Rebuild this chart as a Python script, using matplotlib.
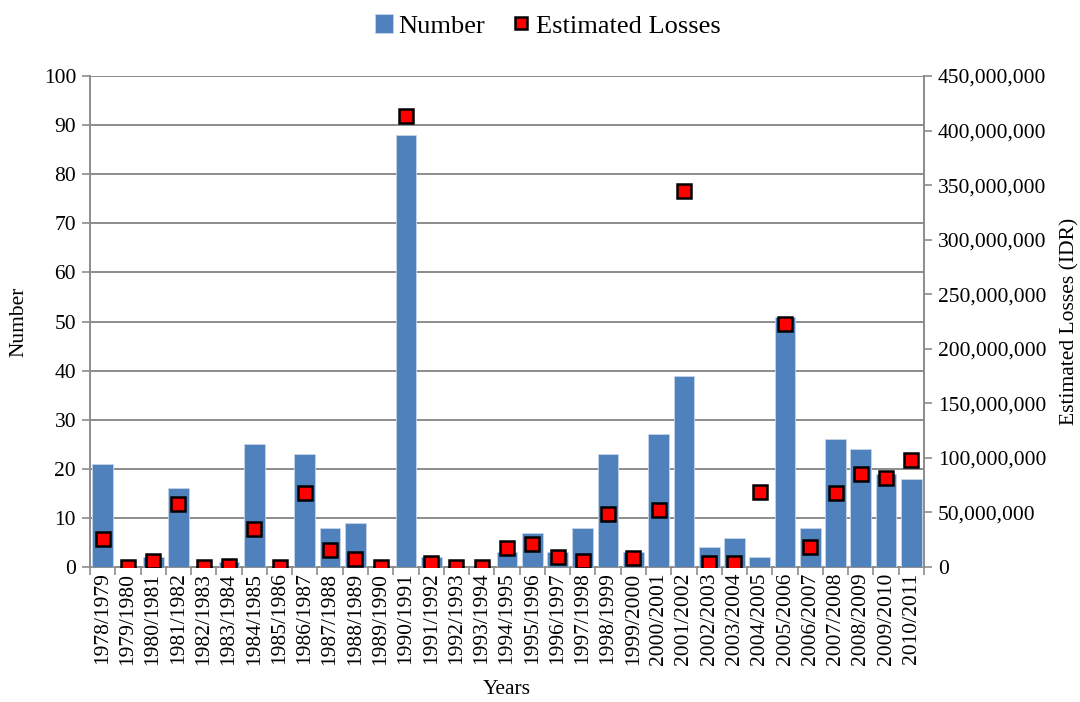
import numpy as np
import matplotlib
matplotlib.use('Agg')
import matplotlib.pyplot as plt
from matplotlib.ticker import FuncFormatter, FixedLocator

plt.rcParams['font.family'] = ['Liberation Serif', 'DejaVu Serif']

years = ['1978/1979', '1979/1980', '1980/1981', '1981/1982', '1982/1983', '1983/1984',
         '1984/1985', '1985/1986', '1986/1987', '1987/1988', '1988/1989', '1989/1990',
         '1990/1991', '1991/1992', '1992/1993', '1993/1994', '1994/1995', '1995/1996',
         '1996/1997', '1997/1998', '1998/1999', '1999/2000', '2000/2001', '2001/2002',
         '2002/2003', '2003/2004', '2004/2005', '2005/2006', '2006/2007', '2007/2008',
         '2008/2009', '2009/2010', '2010/2011']
number = [21, 0, 2, 16, 0, 1, 25, 0, 23, 8, 9, 0, 88, 2, 0, 0, 3, 7, 3, 8, 23, 3,
          27, 39, 4, 6, 2, 51, 8, 26, 24, 19, 18]
# estimated losses in IDR
losses = [26e6, 0, 5.5e6, 58e6, 0, 1e6, 35e6, 0, 68e6, 15.5e6, 7.5e6, 0, 413e6,
          3.5e6, 0, 0, 17.5e6, 21e6, 9e6, 5.5e6, 48.5e6, 8e6, 52e6, 345e6, 4e6,
          3.5e6, 69e6, 223e6, 18.5e6, 68e6, 85e6, 82e6, 98e6]

grey = '#8c8c8c'
fs = 15.5

fig = plt.figure(figsize=(10.8, 7.02), dpi=100)
ax = fig.add_axes([0.0833, 0.1923, 0.7723, 0.6994])
ax2 = ax.twinx()

x = np.arange(len(years))
ax.bar(x, number, width=0.82, color='#4f81bd', edgecolor='#c6d5ea', linewidth=0.6,
       label='Number', zorder=3)
ax2.plot(x, losses, linestyle='none', marker='s', markersize=9.5,
         markerfacecolor='#ff0000', markeredgecolor='black', markeredgewidth=1.8,
         label='Estimated Losses', zorder=4)

ax.set_xlim(-0.5, len(years) - 0.5)
ax.set_ylim(0, 100)
ax2.set_ylim(0, 450e6)
ax.set_yticks(np.arange(0, 101, 10))
ax2.set_yticks(np.arange(0, 450e6 + 1, 50e6))
ax2.yaxis.set_major_formatter(FuncFormatter(lambda v, p: f'{int(v):,}'))

ax.grid(axis='y', color=grey, linewidth=1.4, zorder=0)
ax.set_axisbelow(True)

# category ticks between bars, labels at bar centres
ax.xaxis.set_major_locator(FixedLocator(np.arange(-0.5, len(years), 1.0)))
ax.xaxis.set_major_formatter(FuncFormatter(lambda v, p: ''))
ax.xaxis.set_minor_locator(FixedLocator(x))
ax.set_xticklabels(years, minor=True, rotation=90, fontsize=fs)
ax.tick_params(axis='x', which='major', length=6, width=1.2, color=grey)
ax.tick_params(axis='x', which='minor', length=0, pad=4)
ax.tick_params(axis='y', length=6, width=1.2, color=grey, labelsize=fs, pad=4)
ax2.tick_params(axis='y', length=6, width=1.2, color=grey, labelsize=fs, pad=4)

for a in (ax, ax2):
    for s in a.spines.values():
        s.set_visible(False)
ax.spines['left'].set_visible(True)
ax.spines['bottom'].set_visible(True)
ax2.spines['right'].set_visible(True)
for s in (ax.spines['left'], ax.spines['bottom'], ax2.spines['right']):
    s.set_color(grey)
    s.set_linewidth(1.4)

ax.set_ylabel('Number', fontsize=fs, labelpad=11)
ax2.set_ylabel('Estimated Losses (IDR)', fontsize=fs, labelpad=10)
ax.set_xlabel('Years', fontsize=fs, labelpad=11)

h1, l1 = ax.get_legend_handles_labels()
h2, l2 = ax2.get_legend_handles_labels()
fig.legend(h1 + h2, l1 + l2, loc='center', bbox_to_anchor=(0.507, 0.963), ncol=2,
           frameon=False, fontsize=19, handlelength=0.7, handletextpad=0.2,
           columnspacing=1.0, markerscale=0.9)

fig.savefig('out.png', dpi=100)
